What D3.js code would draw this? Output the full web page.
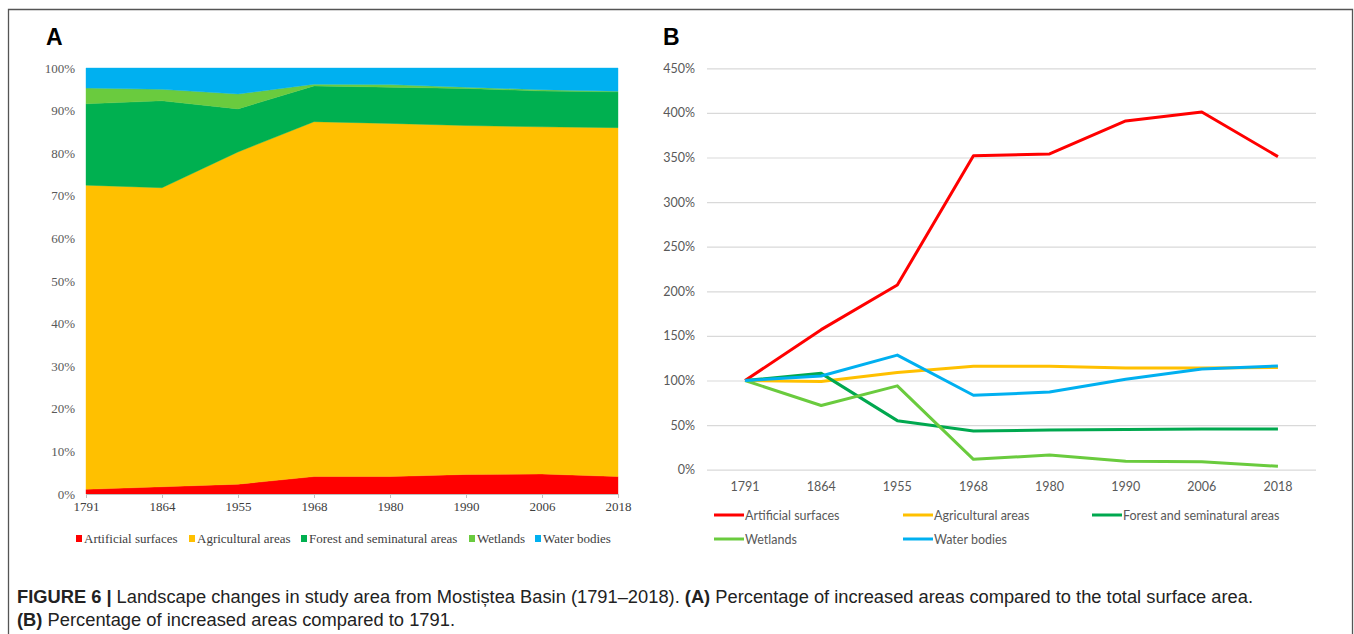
<!DOCTYPE html>
<html><head><meta charset="utf-8">
<script src="https://cdn.jsdelivr.net/npm/d3@7"></script>
<style>body{margin:0;background:#fff} svg{display:block}</style>
</head><body>
<svg id="fig" width="1354" height="634"></svg>
<script>
// Survey years and land-cover classes
const years = ["1791", "1864", "1955", "1968", "1980", "1990", "2006", "2018"];
const classNames = ["Artificial surfaces", "Agricultural areas", "Forest and seminatural areas", "Wetlands", "Water bodies"];
const classColors = ["#ff0000", "#ffc000", "#00b050", "#6acb3e", "#00b0f0"];

// Panel A: share of the total surface area (%), per class
const shareArtificial   = [1.1, 1.7, 2.3, 4.1, 4.1, 4.6, 4.7, 4.1];
const shareAgricultural = [71.4, 70.2, 78.0, 83.3, 82.9, 81.9, 81.5, 81.9];
const shareForest       = [19.1, 20.4, 10.1, 8.4, 8.5, 8.7, 8.4, 8.4];
const shareWetlands     = [3.7, 2.7, 3.5, 0.4, 0.6, 0.3, 0.3, 0.15];
const shareWater        = [4.7, 5.0, 6.1, 3.8, 3.9, 4.5, 5.1, 5.45];

// Panel B: area relative to 1791 (%), per class
const relArtificial   = [100, 157, 207, 352, 354, 391, 401, 351];
const relAgricultural = [100, 99, 109, 116, 116, 114, 114, 114.5];
const relForest       = [100, 108, 55, 43.5, 44.5, 45.2, 45.5, 45.5];
const relWetlands     = [100, 72, 94, 11.6, 16.5, 9.4, 8.8, 3.8];
const relWater        = [100, 105, 128.5, 83.5, 87, 101.3, 112.8, 116.3];

// Axis ticks
const ticksA = [0, 10, 20, 30, 40, 50, 60, 70, 80, 90, 100];
const ticksB = [0, 50, 100, 150, 200, 250, 300, 350, 400, 450];

const svg = d3.select("#fig");

// Figure frame
svg.append("path")
  .attr("d", "M8.5,640 L8.5,9.5 L1352.5,9.5 L1352.5,640")
  .attr("fill", "none").attr("stroke", "#555").attr("stroke-width", 1.3);

// ---------- Panel A: stacked area ----------
const serif = "'Liberation Serif','Times New Roman',serif";
const gA = svg.append("g");
gA.append("text").attr("x", 46).attr("y", 45).text("A")
  .attr("font-family", "'Liberation Sans',Arial,sans-serif").attr("font-weight", "bold").attr("font-size", 23);

const xA = d3.scalePoint().domain(years).range([86, 618]);
const yA = d3.scaleLinear().domain([0, 100]).range([494, 68]);

const shareSeries = [shareArtificial, shareAgricultural, shareForest, shareWetlands, shareWater];
const rowsA = years.map((y, i) => {
  const r = { year: y };
  classNames.forEach((c, k) => r[c] = shareSeries[k][i]);
  return r;
});
const stacked = d3.stack().keys(classNames)(rowsA);
const areaA = d3.area()
  .x(d => xA(d.data.year))
  .y0(d => yA(d[0]))
  .y1(d => yA(d[1]));
gA.selectAll("path.layer").data(stacked).join("path")
  .attr("class", "layer")
  .attr("d", areaA)
  .attr("fill", (d, i) => classColors[i])
  .attr("stroke", (d, i) => classColors[i])
  .attr("stroke-width", 0.4);

// y axis labels
const axA = gA.append("g").attr("transform", "translate(86,0)")
  .call(d3.axisLeft(yA).tickValues(ticksA).tickFormat(d => d + "%").tickSize(0).tickPadding(11));
axA.select(".domain").remove();
axA.selectAll("text").attr("font-family", serif).attr("font-size", 13).attr("fill", "#595959");

// x axis
const axAx = gA.append("g").attr("transform", "translate(0,494)")
  .call(d3.axisBottom(xA).tickSize(4).tickPadding(4));
axAx.select(".domain").attr("stroke", "#bfbfbf");
axAx.selectAll("line").attr("stroke", "#bfbfbf");
axAx.selectAll("text").attr("font-family", serif).attr("font-size", 13).attr("fill", "#404040");

// legend A
const legA = gA.append("g");
const legAx = [76, 189, 301, 469, 535];
classNames.forEach((c, i) => {
  legA.append("rect").attr("x", legAx[i]).attr("y", 535).attr("width", 6).attr("height", 7).attr("fill", classColors[i]);
  legA.append("text").attr("x", legAx[i] + 8).attr("y", 543).text(c)
    .attr("font-family", serif).attr("font-size", 13).attr("fill", "#404040");
});

// ---------- Panel B: lines relative to 1791 ----------
const sans = "Lato,'Liberation Sans',sans-serif";
const gB = svg.append("g");
gB.append("text").attr("x", 663).attr("y", 45).text("B")
  .attr("font-family", "'Liberation Sans',Arial,sans-serif").attr("font-weight", "bold").attr("font-size", 23);

const xB = d3.scaleBand().domain(years).range([707, 1316]);
const yB = d3.scaleLinear().domain([0, 450]).range([469.7, 68.3]);
const cx = y => xB(y) + xB.bandwidth() / 2;

const grid = gB.append("g").attr("transform", "translate(707,0)")
  .call(d3.axisLeft(yB).tickValues(ticksB).tickFormat(d => d + "%").tickSize(-(1316 - 707)).tickPadding(12));
grid.select(".domain").remove();
grid.selectAll("line").attr("stroke", "#d9d9d9").attr("stroke-width", 1.2);
grid.selectAll("text").attr("font-family", sans).attr("font-size", 12.5).attr("fill", "#595959");

const axBx = gB.append("g").attr("transform", "translate(0,469.7)")
  .call(d3.axisBottom(xB).tickSize(0).tickPadding(12));
axBx.select(".domain").remove();
axBx.selectAll("text").attr("font-family", sans).attr("font-size", 12.5).attr("fill", "#595959");

const relSeries = [relArtificial, relAgricultural, relForest, relWetlands, relWater];
const lineB = d3.line().x((d, i) => cx(years[i])).y(d => yB(d));
gB.selectAll("path.series").data(relSeries).join("path")
  .attr("class", "series")
  .attr("d", lineB)
  .attr("fill", "none")
  .attr("stroke", (d, i) => i === 2 ? "#00a84f" : classColors[i])
  .attr("stroke-width", 3)
  .attr("stroke-linejoin", "round");

// legend B
const legBpos = [[714, 515], [903, 515], [1092, 515], [714, 539], [903, 539]];
classNames.forEach((c, i) => {
  const [lx, ly] = legBpos[i];
  gB.append("line").attr("x1", lx).attr("x2", lx + 30).attr("y1", ly).attr("y2", ly)
    .attr("stroke", i === 2 ? "#00a84f" : classColors[i]).attr("stroke-width", 3);
  gB.append("text").attr("x", lx + 31).attr("y", ly + 4.5).text(c)
    .attr("font-family", sans).attr("font-size", 12.5).attr("fill", "#595959");
});

// ---------- Caption ----------
const cap = svg.append("g").attr("font-family", "'Liberation Sans',Arial,sans-serif").attr("font-size", 17.5).attr("fill", "#222");
const l1 = cap.append("text").attr("x", 17).attr("y", 603)
  .attr("textLength", 1236).attr("lengthAdjust", "spacingAndGlyphs");
l1.append("tspan").attr("font-weight", "bold").text("FIGURE 6 |");
l1.append("tspan").text(" Landscape changes in study area from Mostiștea Basin (1791–2018). ");
l1.append("tspan").attr("font-weight", "bold").text("(A)");
l1.append("tspan").text(" Percentage of increased areas compared to the total surface area.");
const l2 = cap.append("text").attr("x", 17).attr("y", 626)
  .attr("textLength", 438).attr("lengthAdjust", "spacingAndGlyphs");
l2.append("tspan").attr("font-weight", "bold").text("(B)");
l2.append("tspan").text(" Percentage of increased areas compared to 1791.");
</script>
</body></html>
